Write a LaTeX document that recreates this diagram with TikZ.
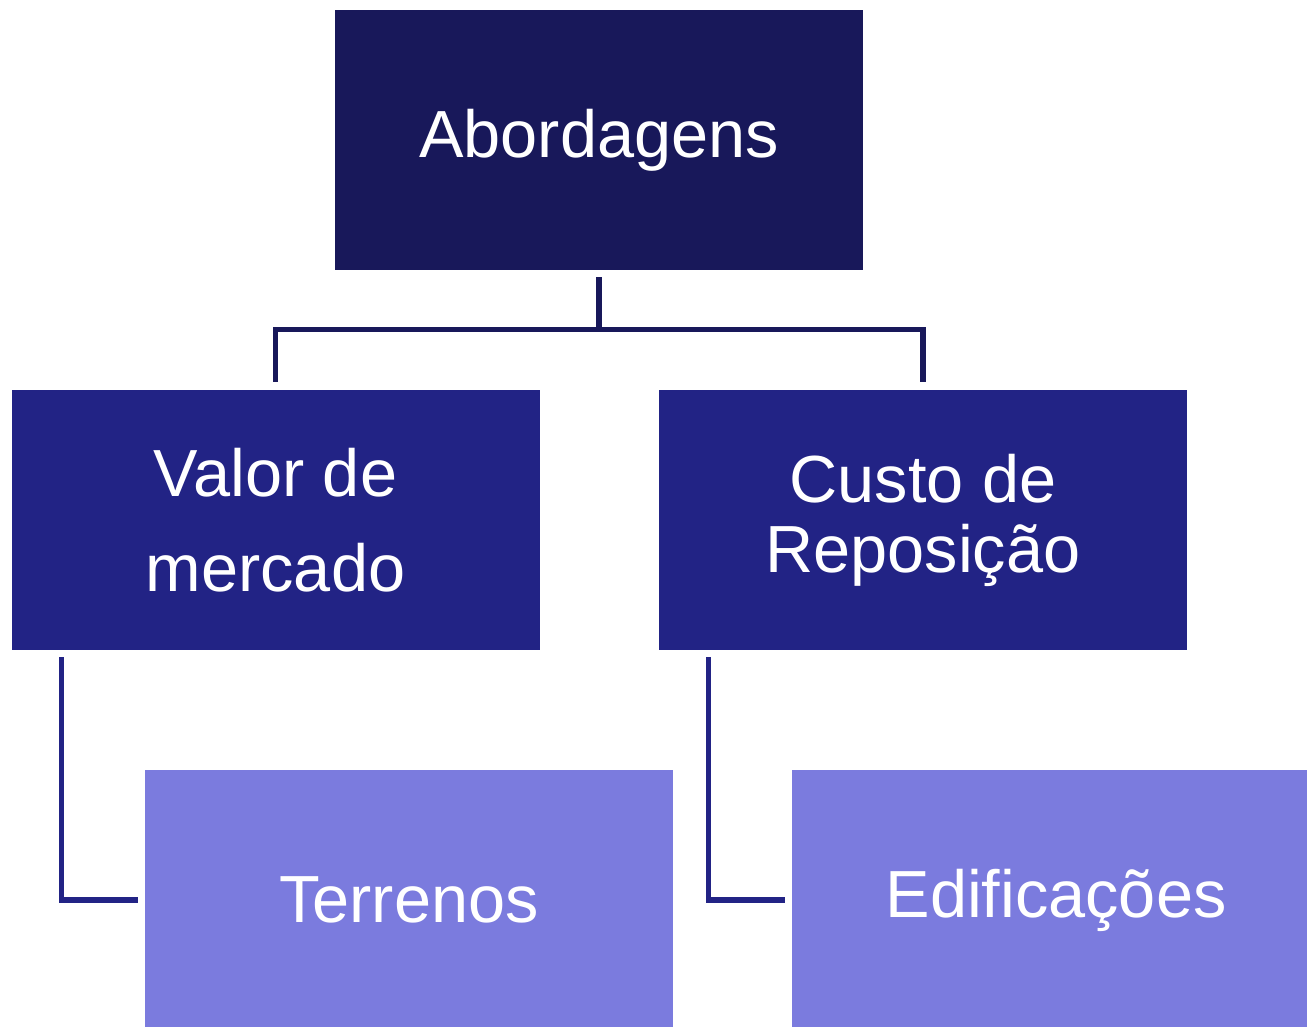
\documentclass[tikz,border=0pt]{standalone}
\usepackage{fontspec}
\setmainfont{Liberation Sans}
\definecolor{topc}{RGB}{24,24,90}
\definecolor{midc}{RGB}{34,35,133}
\definecolor{lowc}{RGB}{123,123,222}
\begin{document}
\begin{tikzpicture}[x=0.75pt,y=-0.75pt,
  box/.style={rectangle, inner sep=0pt, minimum width=396pt, minimum height=195pt, text=white, align=center, font=\fontsize{50pt}{60pt}\selectfont},
  conn/.style={line width=4pt, line cap=butt, line join=miter}]
\useasboundingbox (0,0) rectangle (1307,1026);
\clip (0,0) rectangle (1307,1026);
\node[box, fill=topc] (top) at (599,140) {Abordagens};
\node[box, fill=midc, font=\fontsize{50pt}{71.25pt}\selectfont] (vl) at (275.5,520) {Valor de\\mercado};
\node[box, fill=midc, font=\fontsize{50pt}{52.5pt}\selectfont] (vr) at (923,520) {Custo de\\Reposição};
\node[box, fill=lowc] (tl) at (409,900) {Terrenos};
\node[box, fill=lowc] (tr) at (1056,900) {Edificações};
\draw[conn, draw=topc, shorten <=5.25pt, shorten >=6pt] (top.south) -- ++(0,59) -| (vl.north);
\draw[conn, draw=topc, shorten <=5.25pt, shorten >=6pt] (top.south) -- ++(0,59) -| (vr.north);
\draw[conn, draw=midc, shorten <=5.25pt, shorten >=5.25pt] ([xshift=37.5pt]vl.south west) |- (tl.west);
\draw[conn, draw=midc, shorten <=5.25pt, shorten >=5.25pt] ([xshift=37.5pt]vr.south west) |- (tr.west);
\end{tikzpicture}
\end{document}
